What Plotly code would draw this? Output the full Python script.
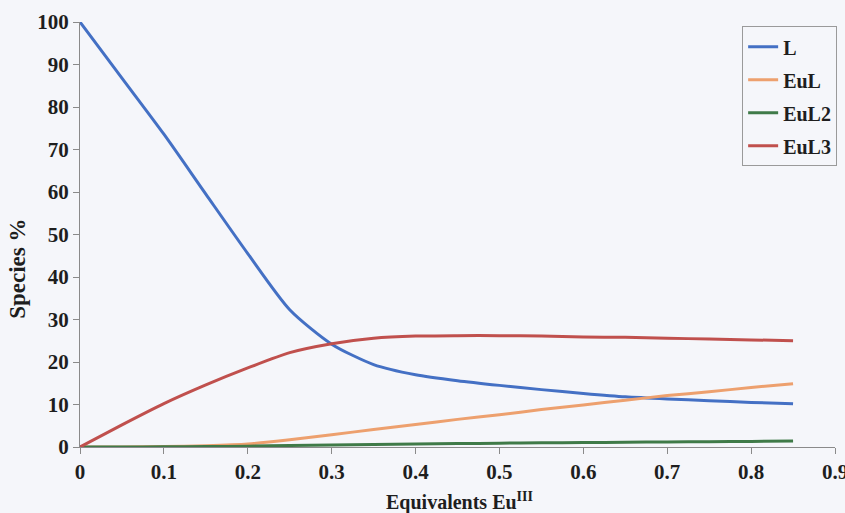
import plotly.graph_objects as go

# Equivalents of Eu(III) added
equivalents = [0.0, 0.05, 0.10, 0.15, 0.20, 0.25, 0.30, 0.35, 0.40, 0.45,
               0.50, 0.55, 0.60, 0.65, 0.70, 0.75, 0.80, 0.85]

# Species distribution (%)
species_L = [100.0, 86.8, 73.6, 59.5, 45.5, 32.3, 24.2, 19.4, 17.0, 15.6,
             14.5, 13.5, 12.6, 11.8, 11.3, 10.9, 10.5, 10.2]
species_EuL = [0.0, 0.02, 0.1, 0.3, 0.7, 1.7, 2.9, 4.1, 5.3, 6.5,
               7.6, 8.8, 9.9, 11.0, 12.1, 13.0, 14.0, 14.9]
species_EuL2 = [0.0, 0.0, 0.05, 0.1, 0.2, 0.35, 0.5, 0.6, 0.7, 0.8,
                0.9, 1.0, 1.05, 1.1, 1.2, 1.25, 1.3, 1.4]
species_EuL3 = [0.0, 5.2, 10.2, 14.6, 18.6, 22.2, 24.3, 25.6, 26.1, 26.2,
                26.2, 26.1, 25.9, 25.8, 25.6, 25.4, 25.2, 25.0]

series = [
    ("L", species_L, "#4470c4"),
    ("EuL", species_EuL, "#eda06e"),
    ("EuL2", species_EuL2, "#3f7a48"),
    ("EuL3", species_EuL3, "#c0504d"),
]

x_ticks = [0, 0.1, 0.2, 0.3, 0.4, 0.5, 0.6, 0.7, 0.8, 0.9]
x_tick_text = ["0", "0.1", "0.2", "0.3", "0.4", "0.5", "0.6", "0.7", "0.8", "0.9"]
y_ticks = [0, 10, 20, 30, 40, 50, 60, 70, 80, 90, 100]

SERIF = "Liberation Serif, Times New Roman, serif"
BG = "#f5f6fa"
INK = "#1e1e1e"

fig = go.Figure()
for name, values, color in series:
    fig.add_trace(go.Scatter(
        x=equivalents, y=values, name=name, mode="lines",
        line=dict(color=color, width=3, shape="spline", smoothing=0.7),
        legendgroup=name,
    ))

axis_common = dict(
    showgrid=False, zeroline=False, showline=True, linecolor="#8a8a8a",
    linewidth=1, ticks="outside", ticklen=6, tickcolor="#8a8a8a",
    automargin=False,
    tickfont=dict(family=SERIF, size=21, color=INK, weight="bold"),
)

fig.update_xaxes(range=[0, 0.9], tickvals=x_ticks, ticktext=x_tick_text,
                 ticklabeloverflow="allow", **axis_common)
fig.update_yaxes(range=[0, 100], tickvals=y_ticks, **axis_common)

fig.add_annotation(
    text="Equivalents Eu<sup>III</sup>", xref="paper", yref="paper",
    x=0.503, y=-0.128, xanchor="center", yanchor="middle", showarrow=False,
    font=dict(family=SERIF, size=20, color=INK, weight="bold"),
)
fig.add_annotation(
    text="Species %", xref="paper", yref="paper", textangle=-90,
    x=-0.083, y=0.42, xanchor="center", yanchor="middle", showarrow=False,
    font=dict(family=SERIF, size=23, color=INK, weight="bold"),
)

fig.update_layout(
    width=845, height=513,
    margin=dict(l=80, r=10, t=22, b=66, autoexpand=False),
    paper_bgcolor=BG, plot_bgcolor=BG,
    showlegend=True,
    legend=dict(
        x=0.877, y=0.99, xanchor="left", yanchor="top",
        bgcolor=BG, bordercolor="#9a9a9a", borderwidth=1,
        font=dict(family=SERIF, size=20, color=INK, weight="bold"),
        tracegroupgap=4,
    ),
)

fig.write_html("out.html")
